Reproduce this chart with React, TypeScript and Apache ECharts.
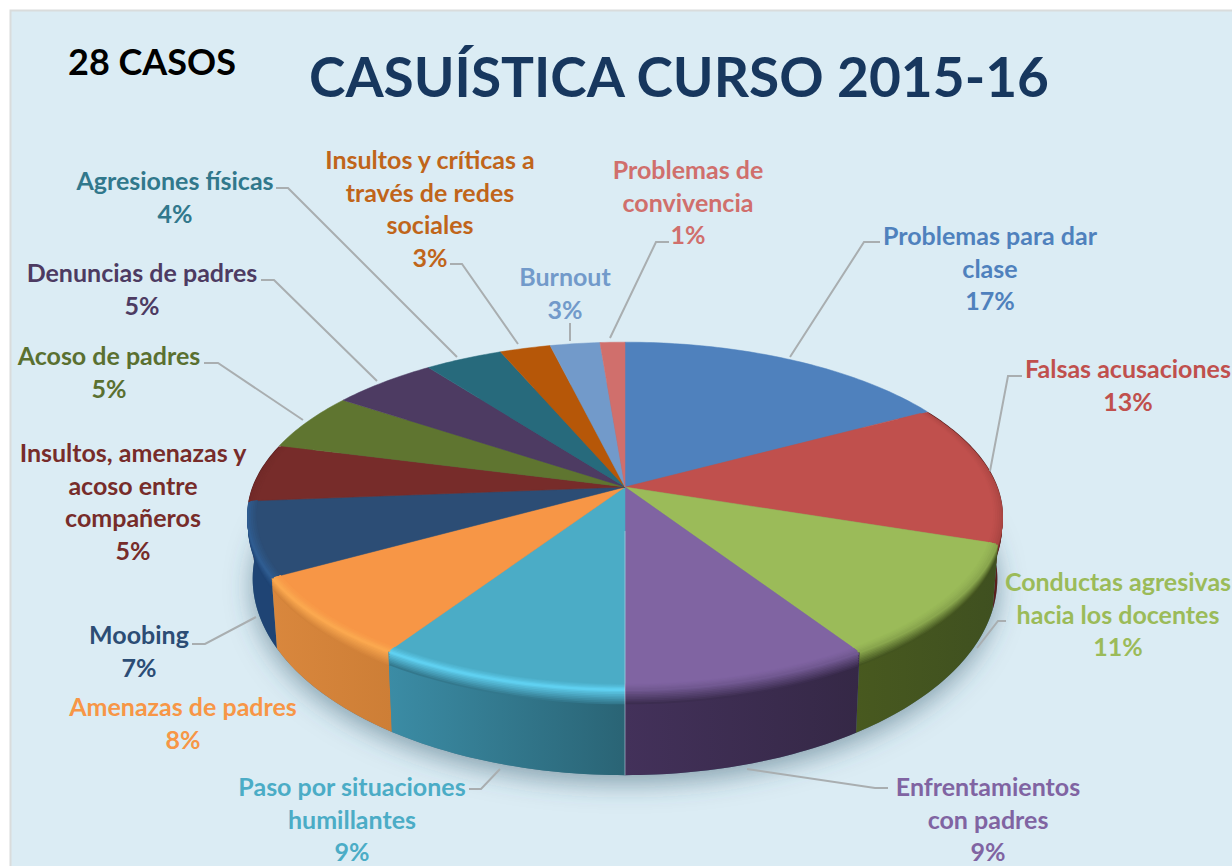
import React, { useEffect, useRef } from "react";
import * as echarts from "echarts";

const titleText = "CASUÍSTICA CURSO 2015-16";
const casesText = "28 CASOS";
const categories = [
  "Problemas para dar clase",
  "Falsas acusaciones",
  "Conductas agresivas hacia los docentes",
  "Enfrentamientos con padres",
  "Paso por situaciones humillantes",
  "Amenazas de padres",
  "Moobing",
  "Insultos, amenazas y acoso entre compañeros",
  "Acoso de padres",
  "Denuncias de padres",
  "Agresiones físicas",
  "Insultos y críticas a través de redes sociales",
  "Burnout",
  "Problemas de convivencia",
];
// printed percentages
const percentLabels = [17, 13, 11, 9, 9, 8, 7, 5, 5, 5, 4, 3, 3, 1];
// slice shares as measured on the picture (the printed labels are rounded)
const values = [17, 13.15, 10.75, 9.1, 9.2, 7.6, 6.9, 5.4, 5.4, 5.3, 3.9, 2.55, 2.5, 1.25];

const topColors = ["#4f81bd", "#c0504d", "#9bbb59", "#8064a2", "#4bacc6", "#f79646", "#2c4d75", "#772c2a", "#5f7530", "#4d3b62", "#276a7c", "#b65708", "#729aca", "#d06f6c"];
const textColors = ["#4f81bd", "#c0504d", "#9bbb59", "#8064a2", "#4bacc6", "#f79646", "#2c4d75", "#772c2a", "#5a7030", "#4d3b62", "#31788c", "#c0651a", "#729aca", "#d06f6c"];
const sideColors = [
  ["#2f5597", "#2f5597"], ["#5a1e1d", "#5a1e1d"], ["#48591f", "#3f5020"], ["#43315a", "#352846"],
  ["#3b8ca5", "#2a6475"], ["#d9873d", "#cd7e36"], ["#1f4474", "#1f4474"], ["#571f1e", "#571f1e"],
  ["#46581f", "#46581f"], ["#382a48", "#382a48"], ["#1c4d5a", "#1c4d5a"], ["#854006", "#854006"],
  ["#5070a0", "#5070a0"], ["#a05050", "#a05050"],
];
const rimHighlights: (string | null)[] = [null, null, null, null, "#5fd0f0", "#fba84f", "#2f5c90", null, null, null, null, null, null, null];

// label layout: text lines and centre / first-line position
const labelLines = [
  ["Problemas para dar", "clase"],
  ["Falsas acusaciones"],
  ["Conductas agresivas", "hacia los docentes"],
  ["Enfrentamientos", "con padres"],
  ["Paso por situaciones", "humillantes"],
  ["Amenazas de padres"],
  ["Moobing"],
  ["Insultos, amenazas y", "acoso entre", "compañeros"],
  ["Acoso de padres"],
  ["Denuncias de padres"],
  ["Agresiones físicas"],
  ["Insultos y críticas a", "través de redes", "sociales"],
  ["Burnout"],
  ["Problemas de", "convivencia"],
];
const labelAnchors = [
  [990, 235], [1128, 368], [1118, 581], [988, 786], [352, 786], [183, 706], [139, 634],
  [133, 452], [109, 355], [142, 272], [175, 180], [430, 159], [565, 276], [688, 169],
];
const leaderLines: (number[][] | null)[] = [
  [[880, 242], [864, 242], [790, 357]],
  [[1022, 376], [1008, 376], [990, 471]],
  [[1006, 621], [998, 621], [977, 648]],
  [[888, 788], [875, 788], [747, 769]],
  [[469, 789], [481, 789], [500, 769]],
  null,
  [[192, 644], [205, 644], [256, 617]],
  null,
  [[204, 363], [218, 363], [303, 420]],
  [[261, 280], [274, 280], [377, 381]],
  [[276, 188], [288, 188], [457, 357]],
  [[450, 264], [462, 264], [518, 344]],
  [[570, 323], [570, 341]],
  [[669, 242], [656, 242], [610, 338]],
];

const FONT = "Lato, 'Open Sans', sans-serif";
const LABEL_SIZE = 25;
const LINE_H = 32.5;

// projection of the tilted disc
const CX = 625, CY = 487, A = 372.7, B = 169, K = 1 / 6, DROP = 59;
function project(theta: number, r: number, t: number): number[] {
  const u = Math.sin(theta) * r;
  const v = -Math.cos(theta) * r;
  const d = 1 - K * v;
  return [CX + (A * (1 - 0.015 * t) * u) / d, CY + DROP * t + (B * (1 + 0.13 * t) * v) / d];
}
function arc(a0: number, a1: number, r: number, t: number): number[][] {
  const n = Math.max(2, Math.ceil(((a1 - a0) * 180) / Math.PI));
  const pts: number[][] = [];
  for (let i = 0; i <= n; i++) pts.push(project(a0 + ((a1 - a0) * i) / n, r, t));
  return pts;
}
function hex(c: string): number[] {
  return [1, 3, 5].map((i) => parseInt(c.slice(i, i + 2), 16));
}
function mix(a: string, b: string, w: number): string {
  const x = hex(a), y = hex(b);
  return "#" + x.map((p, i) => Math.round(p + (y[i] - p) * w).toString(16).padStart(2, "0")).join("");
}

const total = values.reduce((s, x) => s + x, 0);
// bevel between the side wall and the flat top: [radius, depth down the wall, blend]
const rimSteps = [
  [1, 0.17, 0.0], [1, 0.15, 0.1], [1, 0.13, 0.2], [1, 0.11, 0.3], [1, 0.09, 0.4], [1, 0.07, 0.5],
  [1, 0.05, 0.6], [1, 0.03, 0.7], [1, 0.015, 0.8], [0.995, 0, 0.85], [0.99, 0, 0.9], [0.985, 0, 0.94], [0.98, 0, 0.97],
];

function renderItem(params: any, api: any) {
  const i = params.dataIndex;
  const value = api.value(0);
  let before = 0;
  for (let k = 0; k < i; k++) before += values[k];
  const a0 = (before / total) * Math.PI * 2;
  const a1 = ((before + value) / total) * Math.PI * 2;
  const top = topColors[i];
  const children: any[] = [];

  if (i === 0) {
    children.push({
      type: "polygon",
      z2: 1,
      shape: { points: arc(0, Math.PI * 2, 1, 1) },
      style: { fill: "#5a7f90", shadowBlur: 26, shadowColor: "rgba(50,85,105,0.5)", shadowOffsetY: 8 },
    });
  }

  let maxV = -1;
  for (let s = 0; s <= 20; s++) maxV = Math.max(maxV, -Math.cos(a0 + ((a1 - a0) * s) / 20));
  const base = 100 + Math.round((-Math.cos((a0 + a1) / 2) + 1) * 200);
  const hasRim = maxV > 0.02;

  if (hasRim) {
    const [sideL, sideR] = sideColors[i];
    const midSide = mix(sideL, sideR, 0.5);
    const hl = rimHighlights[i] ?? mix(midSide, top, 0.8);
    children.push({
      type: "polygon",
      z2: base,
      shape: { points: [...arc(a0, a1, 1, 0), ...arc(a0, a1, 1, 1).reverse()] },
      style: {
        fill: {
          type: "linear", x: 0, y: 0, x2: 1, y2: 0,
          colorStops: [{ offset: 0, color: sideL }, { offset: 1, color: sideR }],
        },
      },
    });
    rimSteps.forEach(([r, t, w], n) => {
      const color = w <= 0.8 ? mix(midSide, hl, w / 0.8) : mix(hl, top, (w - 0.8) / 0.2);
      children.push({
        type: "polygon",
        z2: base + 1 + n,
        shape: { points: [...arc(a0, a1, r, t), ...arc(a0, a1, 0.9, 0).reverse()] },
        style: { fill: color },
      });
    });
  }

  const rTop = hasRim ? 0.975 : 1;
  children.push({
    type: "polygon",
    z2: 1000,
    shape: { points: [[CX, CY], ...arc(a0, a1, rTop, 0)] },
    style: { fill: top, stroke: top, lineWidth: 0.5 },
  });

  // pale seam where the front half meets at the middle of the pie
  if (i === 3) {
    children.push({
      type: "polyline",
      z2: 1001,
      shape: { points: [project(a1, 0.25, 0), project(a1, 1, 0), project(a1, 1, 1)] },
      style: { stroke: "rgba(205,220,235,0.55)", lineWidth: 1, fill: "none" },
    });
  }

  const line = leaderLines[i];
  if (line) {
    children.push({
      type: "polyline",
      z2: 1002,
      shape: { points: line },
      style: { stroke: "#a9aeb0", lineWidth: 2, fill: "none" },
    });
  }

  const [lx, ly] = labelAnchors[i];
  children.push({
    type: "text",
    z2: 1003,
    style: {
      text: [...labelLines[i], `${percentLabels[i]}%`].join("\n"),
      x: lx,
      y: ly - LINE_H / 2,
      align: "center",
      verticalAlign: "top",
      fontFamily: FONT,
      fontWeight: "bold",
      fontSize: LABEL_SIZE,
      lineHeight: LINE_H,
      fill: textColors[i],
    },
  });
  return { type: "group", children };
}

export default function App() {
  const ref = useRef<HTMLDivElement>(null);
  useEffect(() => {
    document.body.style.margin = "0";
    const chart = echarts.init(ref.current!, null, { renderer: "svg" });
    chart.setOption({
      animation: false,
      backgroundColor: "#ffffff",
      graphic: [
        {
          type: "rect",
          z: 0,
          shape: { x: 10.5, y: 10.5, width: 1300, height: 900 },
          style: { fill: "#dbecf4", stroke: "#d9dcdc", lineWidth: 2 },
        },
      ],
      title: [
        {
          text: titleText, left: 304, top: 43, z: 5,
          textStyle: { fontFamily: FONT, fontWeight: "bold", fontSize: 55, color: "#17375e" },
        },
        {
          text: casesText, left: 63, top: 38, z: 5,
          textStyle: { fontFamily: FONT, fontWeight: "bold", fontSize: 36, color: "#000000" },
        },
      ],
      series: [
        {
          type: "custom",
          coordinateSystem: "none",
          silent: true,
          renderItem,
          data: categories.map((name, i) => ({ name, value: [values[i]] })),
        },
      ],
    });
    return () => chart.dispose();
  }, []);
  return <div ref={ref} style={{ position: "absolute", left: 0, top: 0, width: 1232, height: 866 }} />;
}
